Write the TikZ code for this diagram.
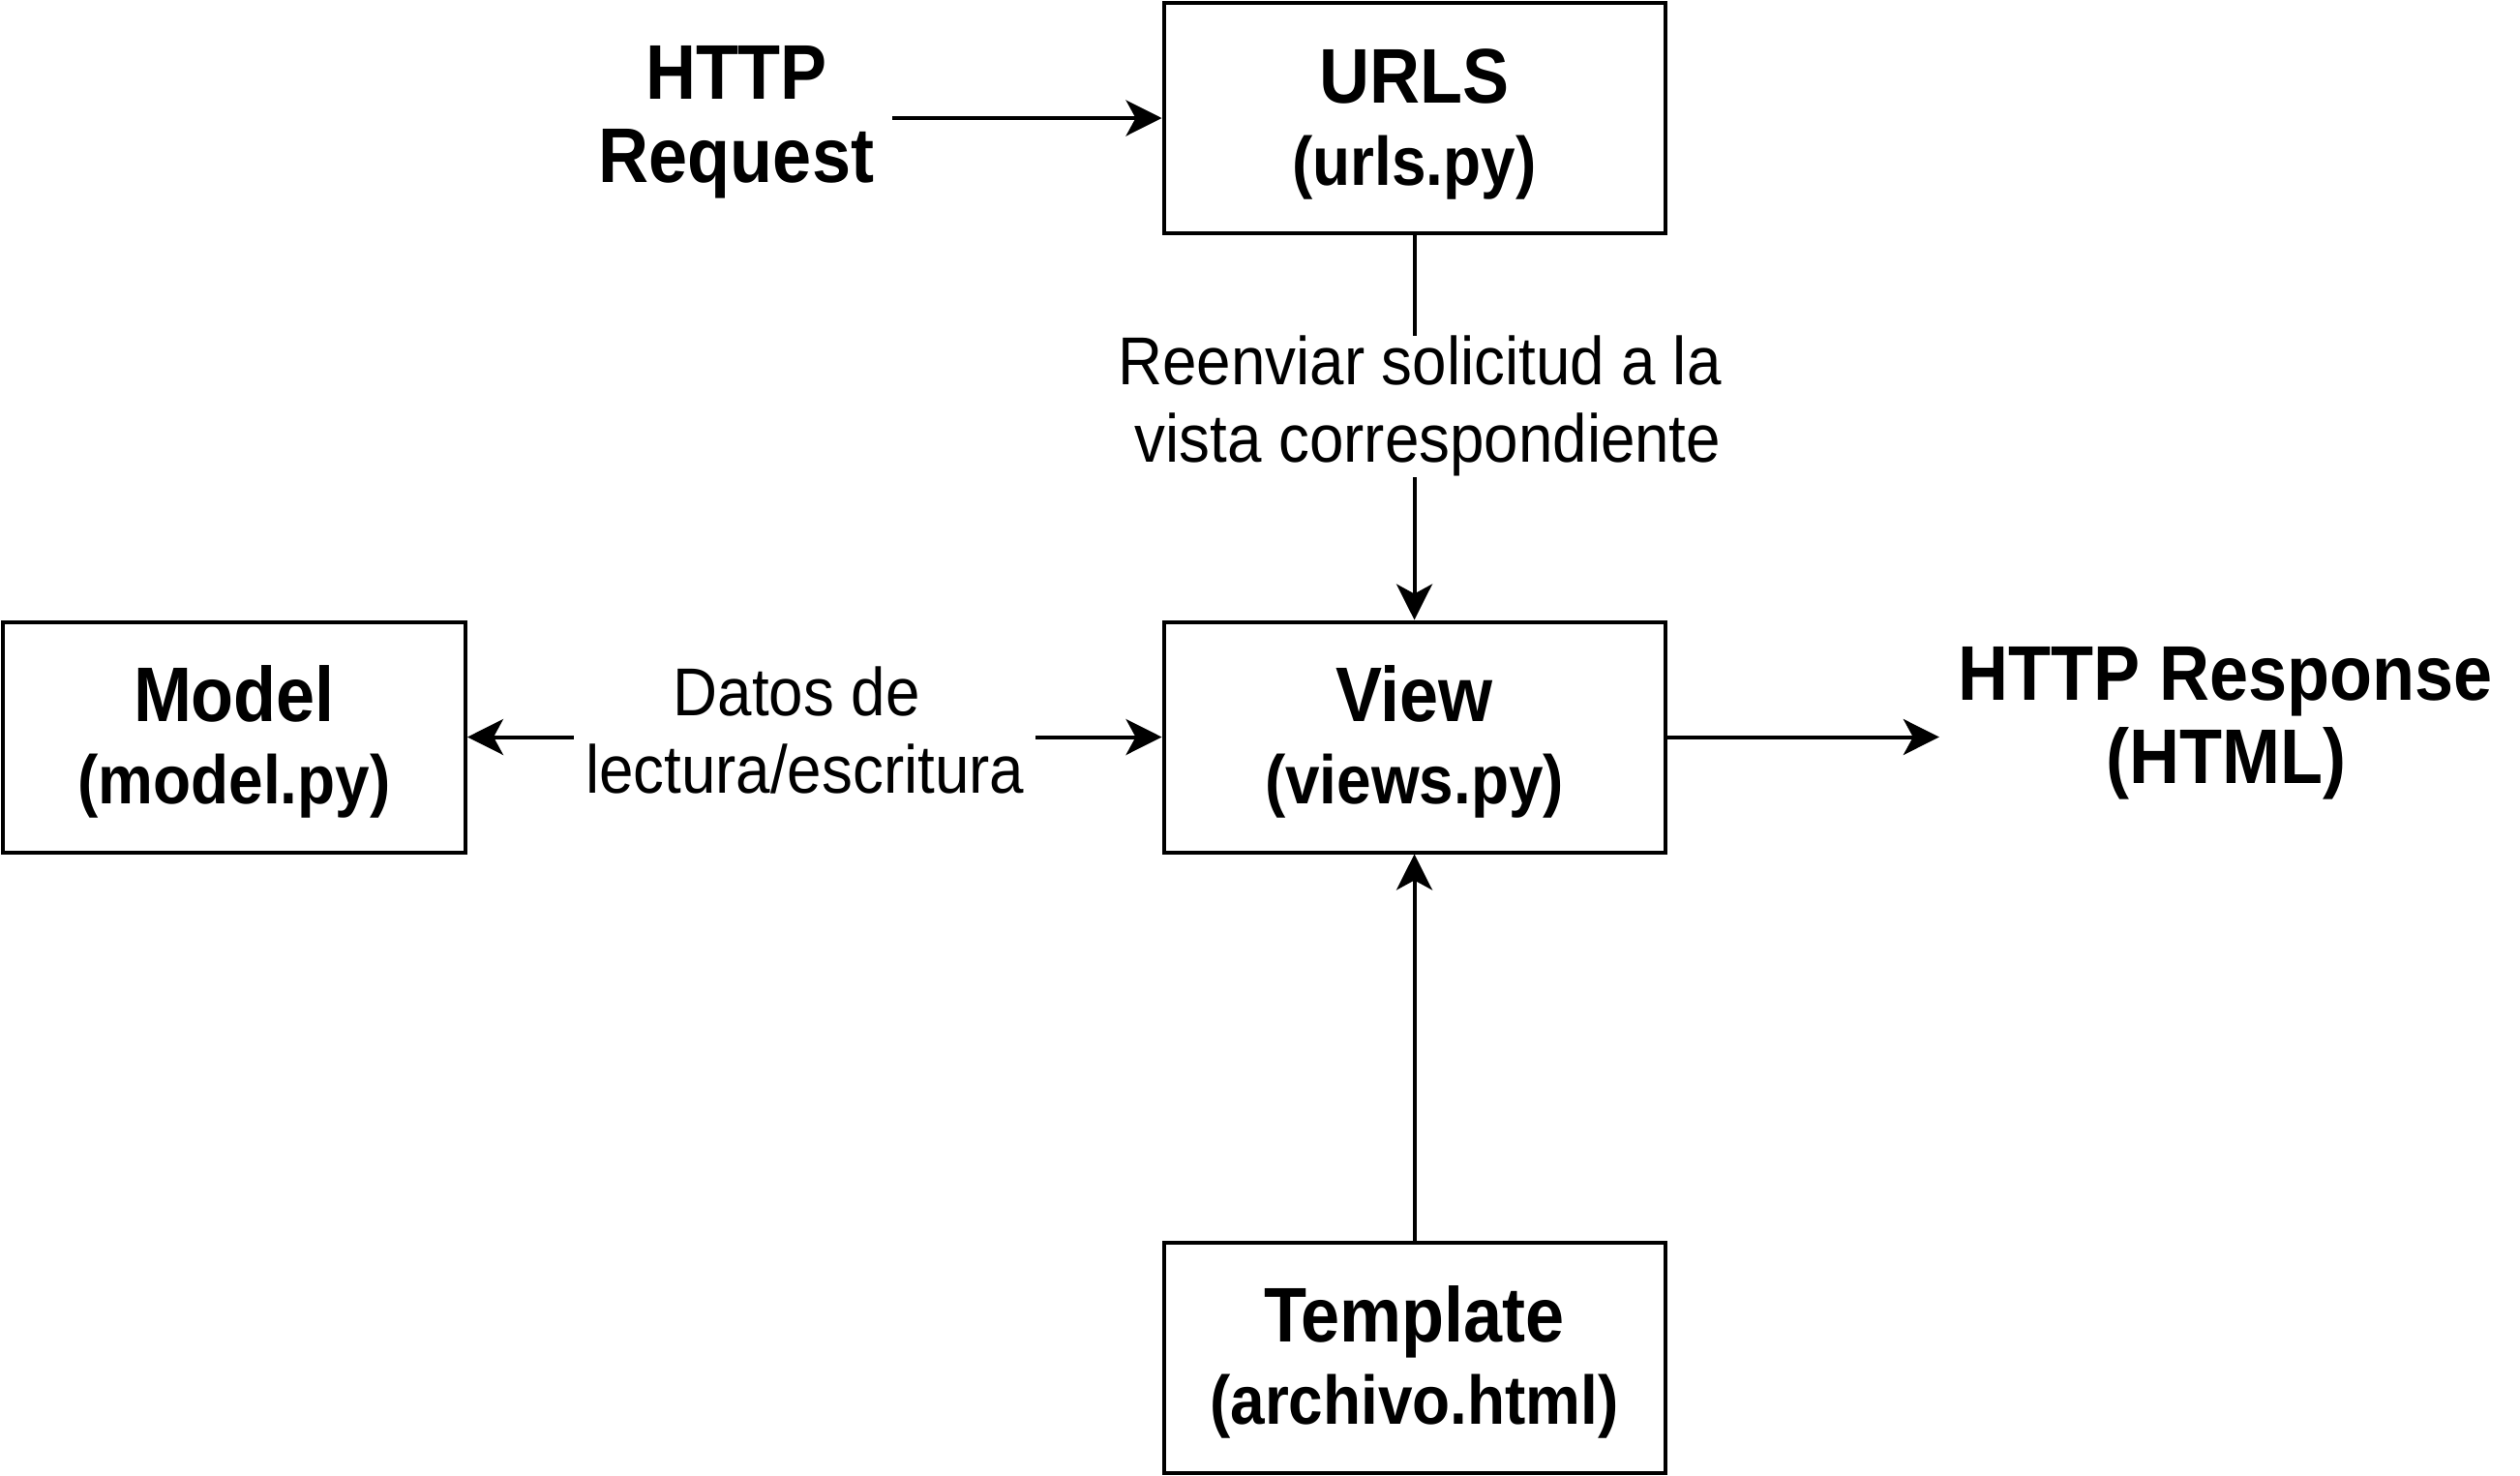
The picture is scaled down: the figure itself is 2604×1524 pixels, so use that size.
\documentclass[tikz,border=0pt]{standalone}
\usepackage{fontspec}
\setmainfont{Liberation Sans}
\newfontfamily\regf{Liberation Sans}[FakeStretch=0.91]
\newfontfamily\boldf{Liberation Sans}[FakeStretch=0.9]
\usetikzlibrary{arrows.meta}
\tikzset{arrowtip/.tip={Stealth[length=37pt,width=37pt,inset=10pt]}}
\newcommand{\subline}{\fontsize{71}{85}\selectfont}
\newcommand{\topstrut}{\rule{0pt}{68pt}}
\newcommand{\trail}{\hbox to 17pt{}}
\begin{document}
\begin{tikzpicture}[x=1pt,y=-1pt,
  box/.style={draw, line width=4pt, minimum width=518pt, minimum height=238pt, align=center, inner sep=0pt,
    font=\boldf\bfseries\fontsize{80}{85}\selectfont},
  txt/.style={align=center, inner sep=0pt, font=\boldf\bfseries\fontsize{80}{86}\selectfont},
  conn/.style={line width=4pt, -arrowtip},
  lbl/.style={fill=white, align=center, inner xsep=12pt, inner ysep=0pt,
    font=\regf\fontsize{70}{80}\selectfont},
]
\useasboundingbox (0,0) rectangle (2604,1524);
\node[box] (urls) at (1461.5,122) {\topstrut URLS\\\subline (urls.py)};
\node[box] (view) at (1461.5,761.5) {\topstrut View\\\subline (views.py)};
\node[box] (tmpl) at (1461.5,1402.5) {\topstrut Template\\\subline (archivo.html)};
\node[box, minimum width=478pt] (model) at (242,761.5) {\topstrut Model\\\subline (model.py)};
\node[txt, minimum width=322pt] (req) at (761,126) {HTTP\\Request};
\node[txt, minimum width=592pt] (resp) at (2300,747) {HTTP Response\\(HTML)};
\draw[conn] (req.east |- urls.west) -- (urls.west);
\draw[conn] (urls) -- node[lbl, pos=0.445, xshift=14pt] {Reenviar solicitud a la\trail\\vista correspondiente} (view);
\draw[conn, arrowtip-arrowtip] (model) -- node[lbl, pos=0.49, yshift=7pt, xshift=-3pt] {Datos de\trail\\lectura/escritura} (view);
\draw[conn] (view.east) -- (view.east -| resp.west);
\draw[conn] (tmpl) -- (view);
\end{tikzpicture}
\end{document}
